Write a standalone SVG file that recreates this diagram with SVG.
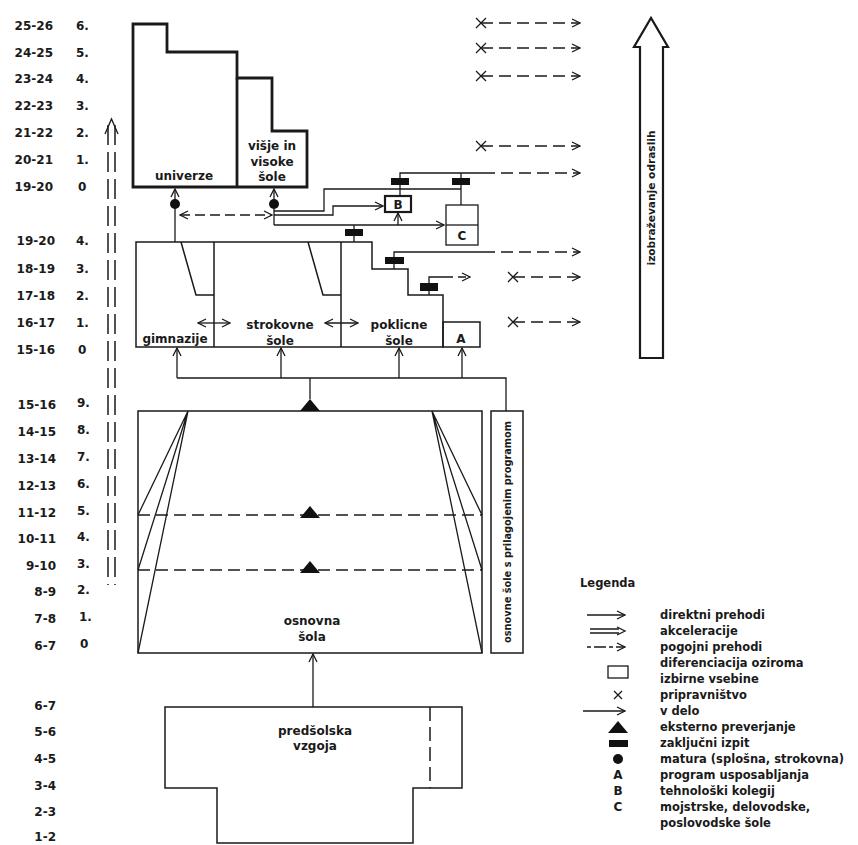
<svg xmlns="http://www.w3.org/2000/svg" width="858" height="845" viewBox="0 0 858 845">
<style>
text{font-family:"DejaVu Sans","Liberation Sans",sans-serif;fill:#1a1a1a}
.age{font-size:12px;font-weight:bold;text-anchor:end}
.num{font-size:12px;font-weight:bold}
.lbl{font-size:12px;font-weight:bold;text-anchor:middle}
.leg{font-size:11.5px;font-weight:bold}
.thick{fill:none;stroke:#1a1a1a;stroke-width:2.8}
.ln{fill:none;stroke:#1a1a1a;stroke-width:1.5}
.thin{fill:none;stroke:#1a1a1a;stroke-width:1.3}
.dash{fill:none;stroke:#1a1a1a;stroke-width:1.3;stroke-dasharray:12 6}
.work{fill:none;stroke:#1a1a1a;stroke-width:1.3;stroke-dasharray:12 6;marker-end:url(#ah)}
.bar{fill:#111}
</style>
<defs>
<marker id="ah" viewBox="0 0 10 10" refX="9" refY="5" markerWidth="10" markerHeight="10" markerUnits="userSpaceOnUse" orient="auto-start-reverse">
<path d="M1,1 L9,5 L1,9" fill="none" stroke="#1a1a1a" stroke-width="1.3"/>
</marker>
</defs>
<rect width="858" height="845" fill="#fff"/>

<g id="ages">
<text class="age" x="53" y="30">25-26</text><text class="num" x="76" y="30">6.</text>
<text class="age" x="53" y="57">24-25</text><text class="num" x="76" y="57">5.</text>
<text class="age" x="53" y="83">23-24</text><text class="num" x="76" y="83">4.</text>
<text class="age" x="53" y="110">22-23</text><text class="num" x="76" y="110">3.</text>
<text class="age" x="53" y="137">21-22</text><text class="num" x="76" y="137">2.</text>
<text class="age" x="53" y="164">20-21</text><text class="num" x="76" y="164">1.</text>
<text class="age" x="53" y="191">19-20</text><text class="num" x="78" y="191">0</text>
<text class="age" x="55" y="245">19-20</text><text class="num" x="76" y="245">4.</text>
<text class="age" x="55" y="273">18-19</text><text class="num" x="76" y="273">3.</text>
<text class="age" x="55" y="300">17-18</text><text class="num" x="76" y="300">2.</text>
<text class="age" x="55" y="327">16-17</text><text class="num" x="76" y="327">1.</text>
<text class="age" x="55" y="354">15-16</text><text class="num" x="78" y="354">0</text>
<text class="age" x="56" y="409">15-16</text><text class="num" x="77" y="407">9.</text>
<text class="age" x="56" y="436">14-15</text><text class="num" x="77" y="434">8.</text>
<text class="age" x="56" y="463">13-14</text><text class="num" x="77" y="461">7.</text>
<text class="age" x="56" y="490">12-13</text><text class="num" x="77" y="488">6.</text>
<text class="age" x="56" y="517">11-12</text><text class="num" x="77" y="515">5.</text>
<text class="age" x="56" y="543">10-11</text><text class="num" x="77" y="541">4.</text>
<text class="age" x="56" y="570">9-10</text><text class="num" x="77" y="568">3.</text>
<text class="age" x="56" y="596">8-9</text><text class="num" x="77" y="594">2.</text>
<text class="age" x="56" y="623">7-8</text><text class="num" x="79" y="621">1.</text>
<text class="age" x="56" y="650">6-7</text><text class="num" x="80" y="648">0</text>
<text class="age" x="56" y="710">6-7</text>
<text class="age" x="56" y="736">5-6</text>
<text class="age" x="56" y="763">4-5</text>
<text class="age" x="56" y="790">3-4</text>
<text class="age" x="56" y="816">2-3</text>
<text class="age" x="56" y="841">1-2</text>
</g>

<g id="univerze">
<path class="thick" d="M133,24 H167 V52 H237 V78 H272 V131 H307 V187 H133 Z"/>
<path class="thick" d="M237,78 V187"/>
<text class="lbl" x="184" y="180">univerze</text>
</g>
<g id="visje-visoke">
<text class="lbl" x="272" y="150">višje in</text>
<text class="lbl" x="272" y="166">visoke</text>
<text class="lbl" x="272" y="181">šole</text>
</g>

<g id="B">
<rect x="385" y="196" width="26" height="16" fill="none" stroke="#1a1a1a" stroke-width="2.2"/>
<text class="lbl" x="398" y="209">B</text>
</g>
<g id="C">
<rect x="446" y="205" width="32" height="40" class="thin"/>
<path class="thin" d="M446,225 H478"/>
<text class="lbl" x="462" y="240">C</text>
</g>

<g id="srednje">
<path class="ln" d="M136,242 H372 V269 H408 V295 H443 V347 H136 Z"/>
<path class="ln" d="M214,242 V347 M341,242 V347 M181,242 L196,295 H214 M308,242 L323,295 H341"/>
<text class="lbl" x="175" y="343">gimnazije</text>
<text class="lbl" x="280" y="329">strokovne</text>
<text class="lbl" x="280" y="345">šole</text>
<text class="lbl" x="399" y="329">poklicne</text>
<text class="lbl" x="399" y="345">šole</text>
</g>
<g id="A">
<rect x="443" y="322" width="37" height="25" class="ln"/>
<text class="lbl" x="461" y="343">A</text>
</g>

<g id="osnovna">
<rect x="138" y="411" width="344" height="242" class="ln"/>
<path class="dash" d="M138,515 H482 M138,570 H482"/>
<path class="thin" d="M188,411 L138,515 M188,411 L138,570 M188,411 L138,653 M432,411 L482,515 M432,411 L482,570 M432,411 L482,653"/>
<path fill="#111" d="M300,411 L310,399 L320,411 Z M300,518 L310,506 L320,518 Z M300,573 L310,561 L320,573 Z"/>
<text class="lbl" x="312" y="625">osnovna</text>
<text class="lbl" x="312" y="641">šola</text>
</g>

<g id="prilagojeni">
<rect x="491" y="411" width="32" height="242" class="ln"/>
<text transform="translate(511,532) rotate(-90)" text-anchor="middle" font-size="11" font-weight="bold" textLength="222" lengthAdjust="spacingAndGlyphs">osnovne šole s prilagojenim programom</text>
</g>

<g id="predsolska">
<path class="ln" d="M165,707 H462 V788 H413 V843 H217 V788 H165 Z"/>
<path class="ln" d="M430,707 V788" stroke-dasharray="14 6"/>
<text class="lbl" x="315" y="735">predšolska</text>
<text class="lbl" x="315" y="750">vzgoja</text>
</g>

<g id="odrasli">
<path fill="#fff" stroke="#1a1a1a" stroke-width="2.2" d="M640,358 V47 H634 L651,18 L668,47 H663 V358 Z"/>
<text transform="translate(655,198) rotate(-90)" text-anchor="middle" font-size="11" font-weight="bold" textLength="135" lengthAdjust="spacingAndGlyphs">izobraževanje odraslih</text>
</g>

<g id="connectors">
<path fill="none" stroke="#1a1a1a" stroke-width="1.5" stroke-dasharray="20 7" d="M108,125 V585 M115,125 V585"/>
<path class="thin" d="M105,134 L111.5,119 L118,134"/>
<path class="thin" d="M175,242 V189" marker-end="url(#ah)"/>
<path class="thin" d="M274,225 V189" marker-end="url(#ah)"/>
<circle cx="175" cy="204" r="5" fill="#111"/>
<circle cx="274" cy="204" r="5" fill="#111"/>
<path class="thin" d="M180,215 H272" stroke-dasharray="10 5" marker-start="url(#ah)" marker-end="url(#ah)"/>
<path class="thin" d="M274,211 H324 V189 H461"/>
<path class="thin" d="M274,215 H333 V206 H383" marker-end="url(#ah)"/>
<path class="thin" d="M274,225 H444" marker-end="url(#ah)"/>
<path class="thin" d="M398,225 V213" marker-end="url(#ah)"/>
<path class="thin" d="M400,196 V173 H483 M461,205 V173"/>
<path class="work" d="M483,173 H580"/>
<rect class="bar" x="391" y="178" width="18" height="7"/>
<rect class="bar" x="452" y="178" width="18" height="7"/>
<path class="thin" d="M354,225 V242"/>
<rect class="bar" x="345" y="229" width="18" height="7"/>
<path class="thin" d="M394,269 V252 H483"/>
<path class="work" d="M483,252 H580"/>
<rect class="bar" x="385" y="257" width="19" height="7"/>
<path class="thin" d="M429,295 V277 H445"/>
<path class="thin" d="M445,277 H470" stroke-dasharray="8 5" marker-end="url(#ah)"/>
<rect class="bar" x="420" y="283" width="18" height="8"/>
<path class="thin" d="M476,18 L486,28 M486,18 L476,28 M476,43 L486,53 M486,43 L476,53 M476,71 L486,81 M486,71 L476,81 M476,141 L486,151 M486,141 L476,151 M508,272 L518,282 M518,272 L508,282 M508,317 L518,327 M518,317 L508,327"/>
<path class="work" d="M481,23 H580"/>
<path class="work" d="M481,48 H580"/>
<path class="work" d="M481,76 H580"/>
<path class="work" d="M481,146 H580"/>
<path class="work" d="M513,277 H580"/>
<path class="work" d="M513,322 H580"/>
<path class="thin" d="M198,323 H230" marker-start="url(#ah)" marker-end="url(#ah)"/>
<path class="thin" d="M325,323 H358" marker-start="url(#ah)" marker-end="url(#ah)"/>
<path class="thin" d="M310,399 V378 M177,378 H506 V411"/>
<path class="thin" d="M177,378 V348" marker-end="url(#ah)"/>
<path class="thin" d="M281,378 V348" marker-end="url(#ah)"/>
<path class="thin" d="M399,378 V348" marker-end="url(#ah)"/>
<path class="thin" d="M462,378 V348" marker-end="url(#ah)"/>
<path class="thin" d="M313,707 V654" marker-end="url(#ah)"/>
</g>

<g id="legenda">
<text class="leg" x="580" y="587" font-size="12">Legenda</text>
<path class="thin" d="M587,615 H625" marker-end="url(#ah)"/>
<path class="thin" d="M590,629 H619 M590,633 H619"/>
<path class="thin" d="M617,627 L625,631 L617,635"/>
<path class="thin" d="M587,647 H625" stroke-dasharray="4 3 12 3" marker-end="url(#ah)"/>
<rect x="608" y="666" width="20" height="12" class="thin"/>
<path class="thin" d="M614,691 L622,699 M622,691 L614,699"/>
<path class="thin" d="M583,711 H625" marker-end="url(#ah)"/>
<path fill="#111" d="M608,733 L618,721 L628,733 Z"/>
<rect class="bar" x="609" y="740" width="19" height="7"/>
<circle cx="618" cy="759" r="5" fill="#111"/>
<text class="lbl" x="618" y="779" font-size="11.5">A</text>
<text class="lbl" x="618" y="795" font-size="11.5">B</text>
<text class="lbl" x="618" y="811" font-size="11.5">C</text>
<text class="leg" x="660" y="619">direktni prehodi</text>
<text class="leg" x="660" y="635">akceleracije</text>
<text class="leg" x="660" y="651">pogojni prehodi</text>
<text class="leg" x="660" y="667">diferenciacija oziroma</text>
<text class="leg" x="660" y="683">izbirne vsebine</text>
<text class="leg" x="660" y="699">pripravništvo</text>
<text class="leg" x="660" y="715">v delo</text>
<text class="leg" x="660" y="731">eksterno preverjanje</text>
<text class="leg" x="660" y="747">zaključni izpit</text>
<text class="leg" x="660" y="763">matura (splošna, strokovna)</text>
<text class="leg" x="660" y="779">program usposabljanja</text>
<text class="leg" x="660" y="795">tehnološki kolegij</text>
<text class="leg" x="660" y="811">mojstrske, delovodske,</text>
<text class="leg" x="660" y="827">poslovodske šole</text>
</g>
</svg>
